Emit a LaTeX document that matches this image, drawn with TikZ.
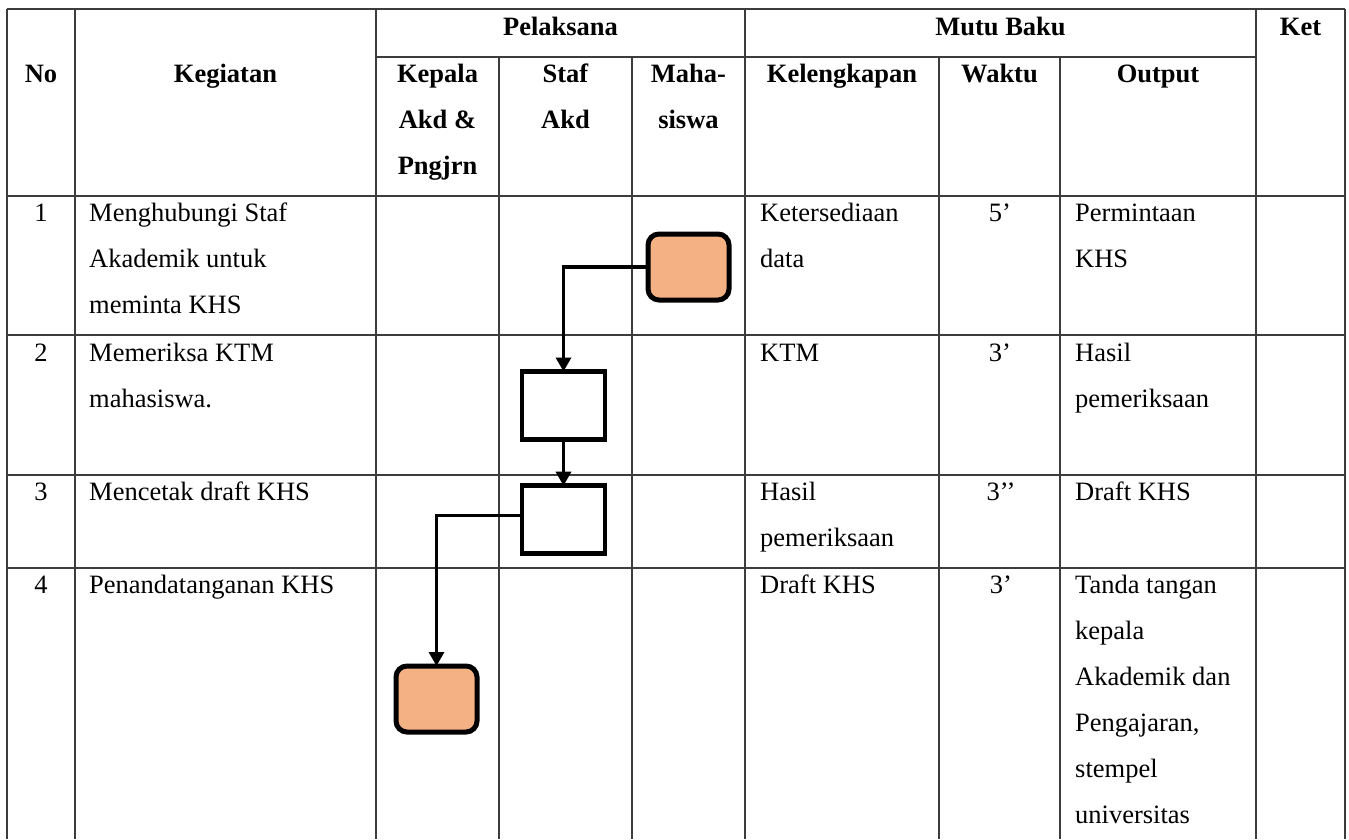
\documentclass[tikz,border=0pt]{standalone}
\usepackage{fontspec}
\setmainfont{Liberation Serif}
\usetikzlibrary{arrows.meta}
\definecolor{boxfill}{HTML}{F4B183}
\definecolor{gridc}{HTML}{3C3C3C}
\begin{document}
\begin{tikzpicture}[x=1pt,y=-1pt,
  grid/.style={draw=gridc,line width=1.3pt},
  txt/.style={inner sep=0pt,font=\fontsize{26.5}{46}\selectfont,align=left,anchor=base west},
  ctxt/.style={inner sep=0pt,font=\fontsize{26.5}{46}\selectfont,align=center,anchor=base},
  hdr/.style={ctxt,font=\fontsize{26.5}{46}\selectfont\bfseries},
  termbox/.style={draw=black,line width=5pt,fill=boxfill,rounded corners=11pt,minimum width=81pt,minimum height=66pt,inner sep=0pt,outer sep=0pt},
  procbox/.style={draw=black,line width=4.6pt,fill=white,minimum width=83pt,minimum height=68pt,inner sep=0pt,outer sep=0pt},
  flow/.style={draw=black,line width=3.3pt,-{Triangle[width=15pt,length=14pt]}}
]
\useasboundingbox (0,0) rectangle (1349,839);
% grid
\foreach \x in {7,75,376,745,1256,1345} \draw[grid] (\x,9) -- (\x,839);
\foreach \x in {499,632,939,1060} \draw[grid] (\x,57) -- (\x,839);
\foreach \y in {9,196,335,475,568} \draw[grid] (7,\y) -- (1345,\y);
\draw[grid] (376,57) -- (1256,57);
% header (multi-line nodes are anchored at the baseline of their last line)
\node[hdr] (hNo) at (41,82) {No};
\node[hdr] (hKeg) at (225.5,82) {Kegiatan};
\node[hdr] (hPel) at (560.5,35) {Pelaksana};
\node[hdr] (hMutu) at (1000.5,35) {Mutu Baku};
\node[hdr] (hKet) at (1300.5,35) {Ket};
\node[hdr] (hKep) at (437.5,174) {Kepala\\Akd \&\\Pngjrn};
\node[hdr] (hStaf) at (565.5,128) {Staf\\Akd};
\node[hdr] (hMhs) at (688.5,128) {Maha-\\siswa};
\node[hdr] (hKel) at (842,82) {Kelengkapan};
\node[hdr] (hWak) at (999.5,82) {Waktu};
\node[hdr] (hOut) at (1158,82) {Output};
% row 1
\node[ctxt] (n1) at (41,221) {1};
\node[txt] (k1) at (89,313) {Menghubungi Staf\\Akademik untuk\\meminta KHS};
\node[txt] (l1) at (760,267) {Ketersediaan\\data};
\node[ctxt] (w1) at (1000,221) {5’};
\node[txt] (o1) at (1075,267) {Permintaan\\KHS};
% row 2
\node[ctxt] (n2) at (41,361) {2};
\node[txt] (k2) at (89,407) {Memeriksa KTM\\mahasiswa.};
\node[txt] (l2) at (760,361) {KTM};
\node[ctxt] (w2) at (1000,361) {3’};
\node[txt] (o2) at (1075,407) {Hasil\\pemeriksaan};
% row 3
\node[ctxt] (n3) at (41,500) {3};
\node[txt] (k3) at (89,500) {Mencetak draft KHS};
\node[txt] (l3) at (760,546) {Hasil\\pemeriksaan};
\node[ctxt] (w3) at (1001,500) {3’’};
\node[txt] (o3) at (1075,500) {Draft KHS};
% row 4
\node[ctxt] (n4) at (41,593) {4};
\node[txt] (k4) at (89,593) {Penandatanganan KHS};
\node[txt] (l4) at (760,593) {Draft KHS};
\node[ctxt] (w4) at (1001,593) {3’};
\node[txt] (o4) at (1075,823) {Tanda tangan\\kepala\\Akademik dan\\Pengajaran,\\stempel\\universitas};
% flow boxes
\node[termbox] (b1) at (688.5,267) {};
\node[procbox] (b2) at (563.5,405.5) {};
\node[procbox] (b3) at (563.5,519.7) {};
\node[termbox] (b4) at (436.5,699) {};
\draw[flow] (b1.west) -| (b2.north);
\draw[flow] (b2.south) -- (b3.north);
\draw[flow] ([yshift=4pt]b3.west) -| (b4.north);
\end{tikzpicture}
\end{document}
